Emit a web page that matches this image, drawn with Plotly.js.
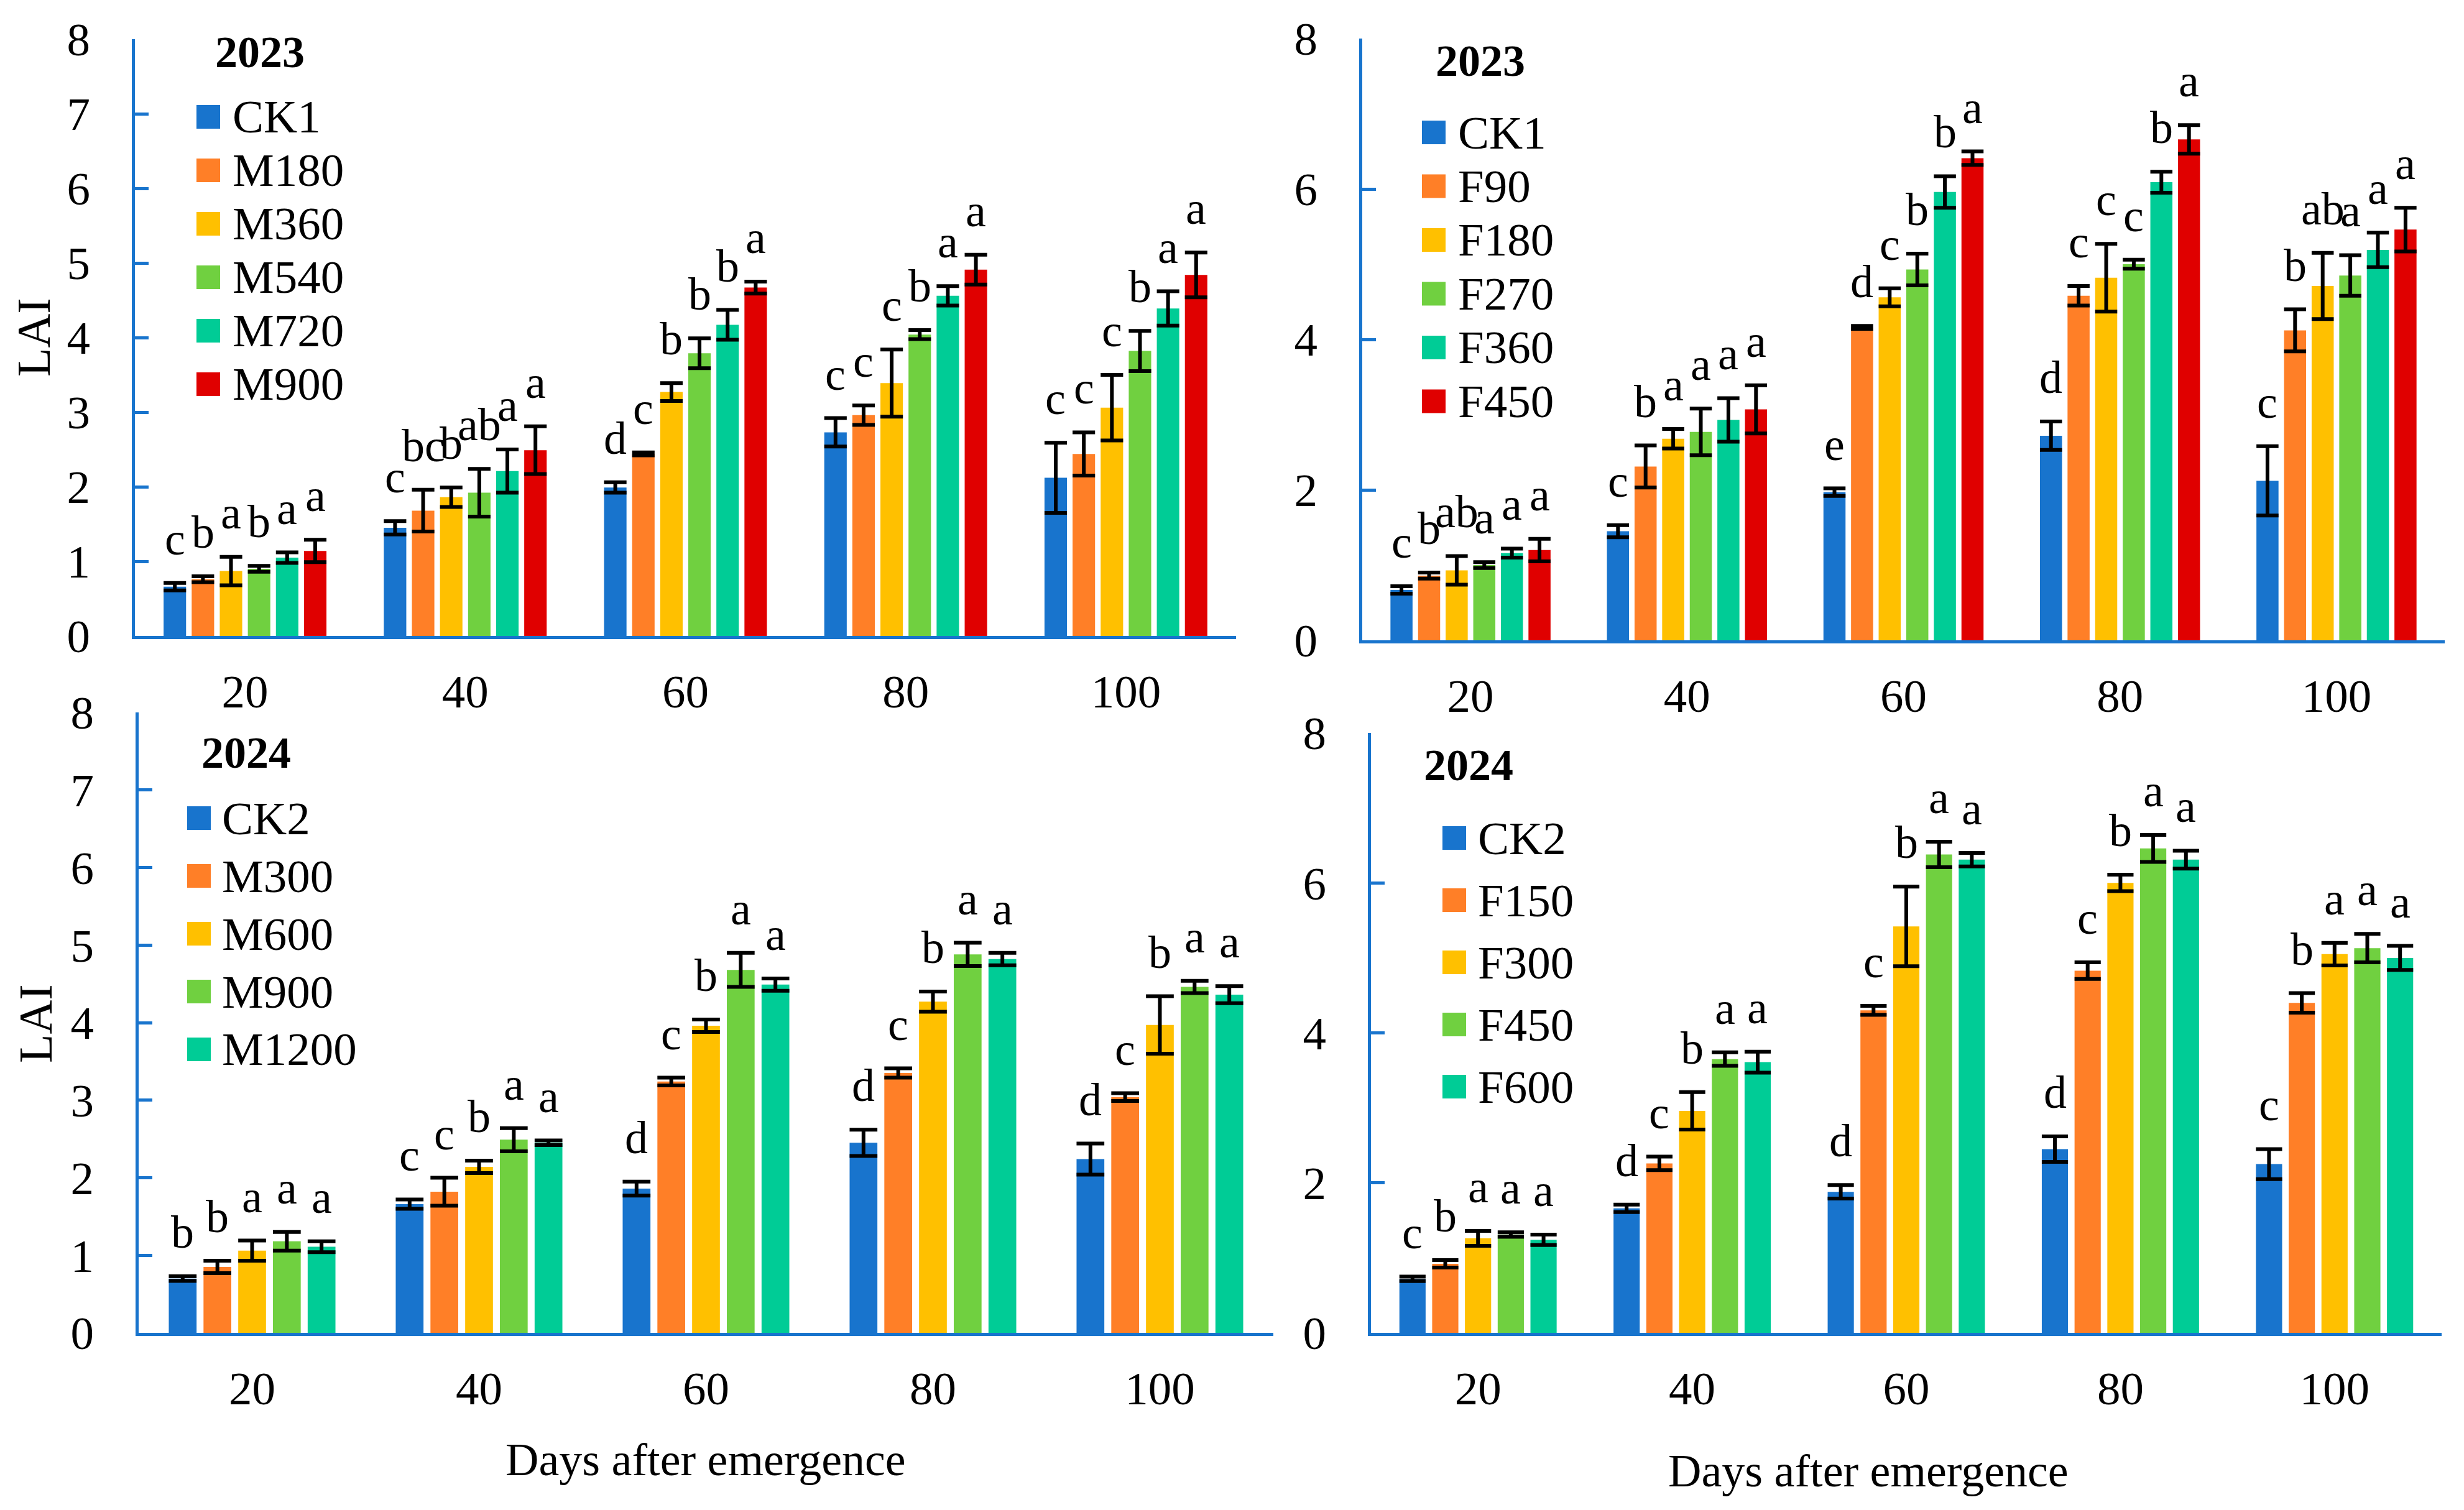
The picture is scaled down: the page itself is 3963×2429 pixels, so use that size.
<!DOCTYPE html>
<html>
<head>
<meta charset="utf-8">
<script src="https://cdn.plot.ly/plotly-3.0.1.min.js"></script>
<style>html,body{margin:0;padding:0;background:#fff;}#chart{width:3963px;height:2429px;}</style>
</head>
<body>
<div id="chart"></div>
<script>
// ---------- DATA ----------
const days = ['20', '40', '60', '80', '100'];
const colors = ['#1874CD', '#FF7F27', '#FFC000', '#70D040', '#00CC96', '#E00000'];

// Panel A: 2023, M series
const namesA = ['CK1', 'M180', 'M360', 'M540', 'M720', 'M900'];
const laiA = [
  [0.66, 1.45, 1.99, 2.73, 2.12],
  [0.76, 1.68, 2.44, 2.96, 2.44],
  [0.87, 1.86, 3.27, 3.39, 3.06],
  [0.90, 1.92, 3.79, 4.04, 3.82],
  [1.05, 2.21, 4.17, 4.56, 4.39],
  [1.14, 2.49, 4.67, 4.91, 4.84]
];
const errA = [
  [0.05, 0.09, 0.07, 0.19, 0.47],
  [0.04, 0.28, 0.02, 0.13, 0.29],
  [0.19, 0.13, 0.12, 0.45, 0.44],
  [0.04, 0.32, 0.20, 0.06, 0.27],
  [0.07, 0.29, 0.20, 0.13, 0.23],
  [0.15, 0.32, 0.08, 0.20, 0.30]
];
const lettersA = [
  ['c', 'c', 'd', 'c', 'c'],
  ['b', 'bc', 'c', 'c', 'c'],
  ['a', 'b', 'b', 'c', 'c'],
  ['b', 'ab', 'b', 'b', 'b'],
  ['a', 'a', 'b', 'a', 'a'],
  ['a', 'a', 'a', 'a', 'a']
];

// Panel B: 2023, F series
const namesB = ['CK1', 'F90', 'F180', 'F270', 'F360', 'F450'];
const laiB = [
  [0.67, 1.45, 1.97, 2.72, 2.12],
  [0.86, 2.31, 4.16, 4.58, 4.12],
  [0.93, 2.68, 4.56, 4.82, 4.71],
  [1.00, 2.77, 4.93, 5.00, 4.85],
  [1.16, 2.93, 5.96, 6.09, 5.19],
  [1.20, 3.07, 6.41, 6.66, 5.46]
];
const errB = [
  [0.05, 0.08, 0.05, 0.19, 0.46],
  [0.04, 0.28, 0.02, 0.13, 0.28],
  [0.19, 0.13, 0.12, 0.45, 0.44],
  [0.04, 0.31, 0.21, 0.06, 0.27],
  [0.06, 0.29, 0.21, 0.14, 0.23],
  [0.15, 0.32, 0.09, 0.19, 0.29]
];
const lettersB = [
  ['c', 'c', 'e', 'd', 'c'],
  ['b', 'b', 'd', 'c', 'b'],
  ['ab', 'a', 'c', 'c', 'ab'],
  ['a', 'a', 'b', 'c', 'a'],
  ['a', 'a', 'b', 'b', 'a'],
  ['a', 'a', 'a', 'a', 'a']
];

// Panel C: 2024, M series
const namesC = ['CK2', 'M300', 'M600', 'M900', 'M1200'];
const laiC = [
  [0.70, 1.66, 1.86, 2.45, 2.24],
  [0.85, 1.82, 3.24, 3.35, 3.04],
  [1.06, 2.14, 3.96, 4.27, 3.97],
  [1.18, 2.49, 4.68, 4.88, 4.46],
  [1.11, 2.45, 4.49, 4.82, 4.36]
];
const errC = [
  [0.03, 0.06, 0.09, 0.17, 0.20],
  [0.08, 0.18, 0.05, 0.06, 0.05],
  [0.13, 0.08, 0.08, 0.13, 0.37],
  [0.12, 0.15, 0.22, 0.15, 0.08],
  [0.07, 0.03, 0.08, 0.08, 0.11]
];
const lettersC = [
  ['b', 'c', 'd', 'd', 'd'],
  ['b', 'c', 'c', 'c', 'c'],
  ['a', 'b', 'b', 'b', 'b'],
  ['a', 'a', 'a', 'a', 'a'],
  ['a', 'a', 'a', 'a', 'a']
];

// Panel D: 2024, F series
const namesD = ['CK2', 'F150', 'F300', 'F450', 'F600'];
const laiD = [
  [0.72, 1.66, 1.88, 2.45, 2.25],
  [0.92, 2.26, 4.30, 4.83, 4.40],
  [1.26, 2.96, 5.42, 6.00, 5.05],
  [1.31, 3.65, 6.38, 6.46, 5.13],
  [1.24, 3.61, 6.31, 6.31, 5.00]
];
const errD = [
  [0.03, 0.05, 0.09, 0.17, 0.20],
  [0.05, 0.09, 0.06, 0.11, 0.13],
  [0.10, 0.25, 0.53, 0.11, 0.15],
  [0.03, 0.09, 0.17, 0.18, 0.19],
  [0.07, 0.14, 0.09, 0.12, 0.16]
];
const lettersD = [
  ['c', 'd', 'd', 'd', 'c'],
  ['b', 'c', 'c', 'c', 'b'],
  ['a', 'b', 'b', 'b', 'a'],
  ['a', 'a', 'a', 'a', 'a'],
  ['a', 'a', 'a', 'a', 'a']
];

const yearTitles = ['2023', '2023', '2024', '2024'];
const yTitle = 'LAI';
const xTitle = 'Days after emergence';

// ---------- LAYOUT CONSTANTS ----------
const W = 3963, H = 2429;
const FONT = '"Liberation Serif", "Times New Roman", serif';
const AXIS_BLUE = '#1874CD';
const BARGAP = 0.235, GROUPGAP = 0.2;

const panels = [
  {names: namesA, lai: laiA, err: errA, letters: lettersA, px: [217, 1988], py: [63, 1023], dtick: 1,
   leg: {sq: 316, tx: 372, y0: 188, dy: 86, titleX: 418, titleY: 84}, ytitle: [54, 543]},
  {names: namesB, lai: laiB, err: errB, letters: lettersB, px: [2191, 3932], py: [62, 1030], dtick: 2,
   leg: {sq: 2287, tx: 2343, y0: 213, dy: 86.5, titleX: 2381, titleY: 98}, ytitle: null},
  {names: namesC, lai: laiC, err: errC, letters: lettersC, px: [223, 2048], py: [1146, 2144], dtick: 1,
   leg: {sq: 301, tx: 355, y0: 1316, dy: 93, titleX: 396, titleY: 1211}, ytitle: [57, 1647], xtitle: [1135, 2348]},
  {names: namesD, lai: laiD, err: errD, letters: lettersD, px: [2205, 3927], py: [1179, 2144], dtick: 2,
   leg: {sq: 2320, tx: 2375, y0: 1348, dy: 100, titleX: 2362, titleY: 1231}, ytitle: null, xtitle: [3005, 2366]}
];

const fx = v => v / W;
const fy = v => (H - v) / H;

const traces = [];
const annotations = [];
const shapes = [];
const layout = {
  width: W, height: H,
  margin: {l: 0, r: 0, t: 0, b: 0},
  paper_bgcolor: '#fff', plot_bgcolor: '#fff',
  barmode: 'group', bargap: BARGAP, bargroupgap: GROUPGAP,
  showlegend: false,
  font: {family: FONT, color: '#000', size: 75}
};

panels.forEach((p, k) => {
  const sfx = k === 0 ? '' : String(k + 1);
  const xa = 'x' + sfx, ya = 'y' + sfx;
  const n = p.names.length;
  const plotW = p.px[1] - p.px[0];
  const catW = plotW / days.length;
  const slot = catW * (1 - BARGAP) / n;
  const barW = slot * (1 - GROUPGAP);

  layout['xaxis' + sfx] = {
    domain: [fx(p.px[0]), fx(p.px[1])], anchor: ya, type: 'category',
    categoryorder: 'array', categoryarray: days, range: [-0.5, days.length - 0.5],
    showline: true, linecolor: AXIS_BLUE, linewidth: 5, ticks: '', showgrid: false, zeroline: false,
    tickfont: {family: FONT, size: 75, color: '#000'}, ticklabelstandoff: 20, fixedrange: true
  };
  layout['yaxis' + sfx] = {
    domain: [fy(p.py[1]), fy(p.py[0])], anchor: xa, range: [0, 8], dtick: p.dtick, tick0: 0,
    showline: true, linecolor: AXIS_BLUE, linewidth: 5, ticks: 'inside', ticklen: 22, tickwidth: 5,
    tickcolor: AXIS_BLUE, showgrid: false, zeroline: false,
    tickfont: {family: FONT, size: 75, color: '#000'}, ticklabelstandoff: 52, fixedrange: true
  };

  p.names.forEach((nm, i) => {
    traces.push({
      type: 'bar', name: nm, x: days, y: p.lai[i], xaxis: xa, yaxis: ya,
      marker: {color: colors[i], line: {width: 0}},
      error_y: {type: 'data', array: p.err[i], visible: true, color: '#000', thickness: 6, width: barW / 2},
      hoverinfo: 'skip'
    });
    const shift = (i - (n - 1) / 2) * slot;
    days.forEach((d, j) => {
      annotations.push({
        xref: xa, yref: ya, x: j, y: p.lai[i][j] + p.err[i][j],
        text: p.letters[i][j], showarrow: false, xanchor: 'center', yanchor: 'bottom',
        xshift: shift, yshift: 28, font: {family: FONT, size: 74, color: '#000'}
      });
    });
    // legend entry (swatch + label)
    const cy = p.leg.y0 + i * p.leg.dy;
    shapes.push({
      type: 'rect', xref: 'paper', yref: 'paper', line: {width: 0}, fillcolor: colors[i],
      x0: fx(p.leg.sq), x1: fx(p.leg.sq + 38), y0: fy(cy + 19), y1: fy(cy - 19)
    });
    annotations.push({
      xref: 'paper', yref: 'paper', x: fx(p.leg.tx), y: fy(cy), text: nm, showarrow: false,
      xanchor: 'left', yanchor: 'middle', font: {family: FONT, size: 75, color: '#000'}
    });
  });

  annotations.push({
    xref: 'paper', yref: 'paper', x: fx(p.leg.titleX), y: fy(p.leg.titleY), text: '<b>' + yearTitles[k] + '</b>',
    showarrow: false, xanchor: 'center', yanchor: 'middle', font: {family: FONT, size: 72, color: '#000'}
  });
  if (p.ytitle) {
    annotations.push({
      xref: 'paper', yref: 'paper', x: fx(p.ytitle[0]), y: fy(p.ytitle[1]), text: yTitle, textangle: -90,
      showarrow: false, xanchor: 'center', yanchor: 'middle', font: {family: FONT, size: 76, color: '#000'}
    });
  }
  if (p.xtitle) {
    annotations.push({
      xref: 'paper', yref: 'paper', x: fx(p.xtitle[0]), y: fy(p.xtitle[1]), text: xTitle,
      showarrow: false, xanchor: 'center', yanchor: 'middle', font: {family: FONT, size: 74, color: '#000'}
    });
  }
});

layout.annotations = annotations;
layout.shapes = shapes;

Plotly.newPlot('chart', traces, layout, {staticPlot: true, displayModeBar: false});
</script>
</body>
</html>
